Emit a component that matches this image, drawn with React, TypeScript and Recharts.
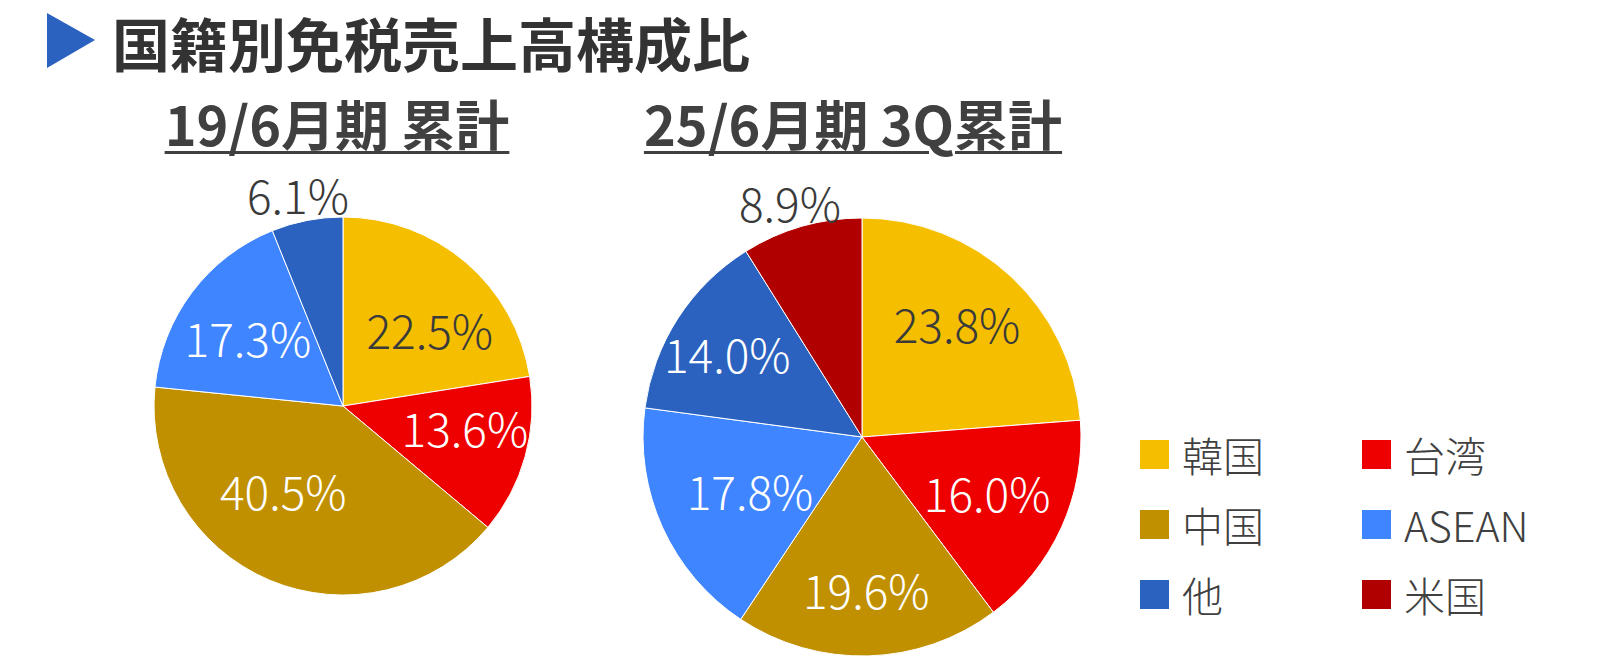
import { PieChart, Pie, Cell } from "recharts";

const countries = ["韓国", "台湾", "中国", "ASEAN", "他", "米国"];
const colors = ["#F5BF00", "#EE0000", "#C09000", "#3E85FF", "#2B62C0", "#B00000"];
const share2019 = [22.5, 13.6, 40.5, 17.3, 6.1];
const share2025 = [23.8, 16.0, 19.6, 17.8, 14.0, 8.9];

// label placement (Excel "best fit" look): distance as share of radius, and a small turn in degrees
const labelDist2019 = [0.613, 0.655, 0.546, 0.621, 1.147];
const labelTurn2019 = [-8, 5.5, -12.5, 1, 1];
const labelDist2025 = [0.678, 0.625, 0.694, 0.566, 0.724, 1.124];
const labelTurn2025 = [3, 0.5, 0, 1, 1, 1];

const pie2019 = share2019.map((value, i) => ({ name: countries[i], value }));
const pie2025 = share2025.map((value, i) => ({ name: countries[i], value }));

const FONT = "'Noto Sans CJK JP', 'Noto Sans', sans-serif";
const RAD = Math.PI / 180;

const makeLabel = (dist: number[], turn: number[]) => (props: any) => {
  const { cx, cy, midAngle, outerRadius, value, index } = props;
  const outside = dist[index] > 1;
  const r = outerRadius * dist[index];
  const a = (midAngle + turn[index]) * RAD;
  const x = cx + r * Math.cos(-a);
  const y = cy + r * Math.sin(-a);
  const dark = outside || index === 0;
  return (
    <text
      x={x}
      y={y}
      fill={dark ? "#3a3a3a" : "#ffffff"}
      textAnchor="middle"
      dominantBaseline="central"
      fontSize={46}
      fontFamily={FONT}
      fontWeight={300}
    >
      {value.toFixed(1)}%
    </text>
  );
};

const subtitle: React.CSSProperties = {
  position: "absolute",
  top: 83,
  fontSize: 54,
  fontWeight: 700,
  color: "#404040",
  textDecoration: "underline",
  textUnderlineOffset: 5,
  textDecorationThickness: 3,
  transform: "translateX(-50%)",
  whiteSpace: "nowrap",
};

export default function App() {
  return (
    <div style={{ position: "absolute", left: 0, top: 0, width: 1600, height: 657, background: "#fff", fontFamily: FONT }}>
      <PieChart width={1600} height={657} margin={{ top: 0, right: 0, bottom: 0, left: 0 }}>
        <Pie
          data={pie2019}
          dataKey="value"
          cx={343}
          cy={406}
          outerRadius={189}
          startAngle={90}
          endAngle={-270}
          stroke="#ffffff"
          strokeWidth={1}
          label={makeLabel(labelDist2019, labelTurn2019)}
          labelLine={false}
          isAnimationActive={false}
        >
          {pie2019.map((d, i) => (
            <Cell key={d.name} fill={colors[i]} />
          ))}
        </Pie>
        <Pie
          data={pie2025}
          dataKey="value"
          cx={862}
          cy={437}
          outerRadius={219}
          startAngle={90}
          endAngle={-270}
          stroke="#ffffff"
          strokeWidth={1}
          label={makeLabel(labelDist2025, labelTurn2025)}
          labelLine={false}
          isAnimationActive={false}
        >
          {pie2025.map((d, i) => (
            <Cell key={d.name} fill={colors[i]} />
          ))}
        </Pie>
      </PieChart>

      <div style={{ position: "absolute", left: 47, top: 13, width: 0, height: 0, borderTop: "27px solid transparent", borderBottom: "28px solid transparent", borderLeft: "48px solid #2B62C0" }} />
      <div style={{ position: "absolute", left: 112, top: 13, fontSize: 58, lineHeight: "58px", fontWeight: 700, color: "#333333", whiteSpace: "nowrap" }}>
        国籍別免税売上高構成比
      </div>
      <div style={{ ...subtitle, left: 337 }}>19/6月期 累計</div>
      <div style={{ ...subtitle, left: 853 }}>25/6月期 3Q累計</div>

      {countries.map((name, i) => {
        const col = i % 2;
        const row = Math.floor(i / 2);
        return (
          <div
            key={name}
            style={{ position: "absolute", left: col === 0 ? 1140 : 1362, top: 428 + row * 70, display: "flex", alignItems: "center", height: 52 }}
          >
            <div style={{ width: 29, height: 29, background: colors[i], marginRight: 13 }} />
            <span style={{ fontSize: 41, color: "#404040", fontWeight: 300 }}>{name}</span>
          </div>
        );
      })}
    </div>
  );
}
